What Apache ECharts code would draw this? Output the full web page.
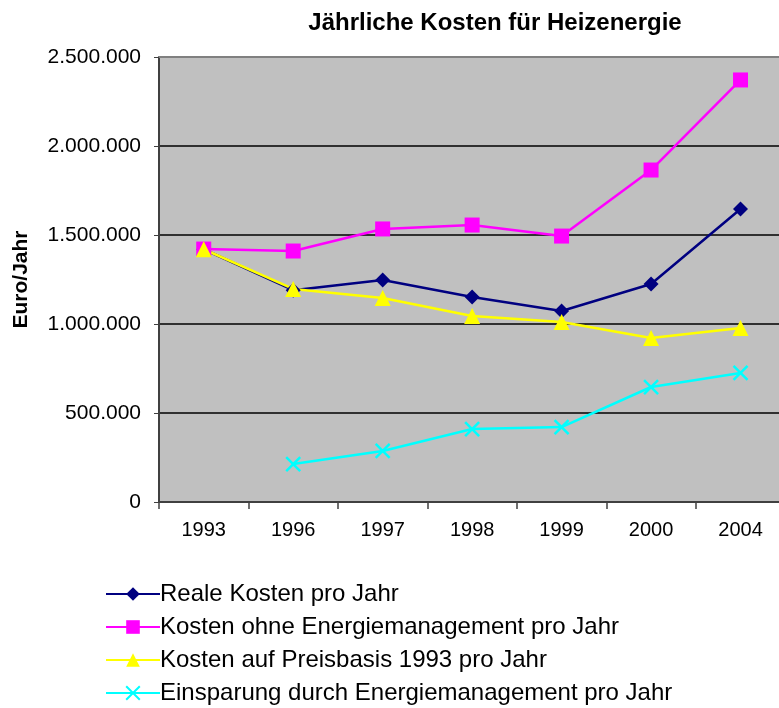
<!DOCTYPE html>
<html>
<head>
<meta charset="utf-8">
<script src="https://cdn.jsdelivr.net/npm/echarts@6/dist/echarts.min.js"></script>
<style>
  html, body { margin: 0; padding: 0; background: #fff; }
  #chart { width: 779px; height: 708px; }
</style>
</head>
<body>
<div id="chart"></div>
<script>
// Jahre (Kategorien)
const years = ['1993', '1996', '1997', '1998', '1999', '2000', '2004']

// Werte in Euro/Jahr
const realeKosten = [1420000, 1190000, 1247000, 1152000, 1073000, 1225000, 1646000]
const ohneEnergiemanagement = [1421000, 1410000, 1534000, 1556000, 1494000, 1865000, 2371000]
const preisbasis1993 = [1420000, 1197000, 1146000, 1045000, 1011000, 921000, 978000]
const einsparung = [null, 213000, 287000, 410000, 421000, 646000, 725000]

const yTicks = [0, 500000, 1000000, 1500000, 2000000, 2500000]

const chart = echarts.init(document.getElementById('chart'))

// Tausenderpunkt wie im Original
const fmt = v => String(v).replace(/\B(?=(\d{3})+(?!\d))/g, '.')

const font = 'Liberation Sans, Arial, sans-serif'

// Plotfläche läuft im Original rechts über den Bildrand hinaus:
// nur ca. 6,93 von 7 Kategorien sind sichtbar
const visibleCats = 6.93

// Kategorien als Index-Achse, Punkte in der Mitte jeder Kategorie
const toPairs = arr => arr.map((v, i) => [i, v])

const mkSeries = (name, data, color, symbol, size, extra) => Object.assign({
  name,
  type: 'line',
  data: toPairs(data),
  symbol,
  symbolSize: size,
  showAllSymbol: true,
  connectNulls: false,
  lineStyle: { color, width: 2.5 },
  itemStyle: { color },
  emphasis: { disabled: true },
  animation: false
}, extra || {})

const option = {
  animation: false,
  title: {
    text: 'Jährliche Kosten für Heizenergie',
    left: 490,
    top: 6,
    textAlign: 'center',
    textStyle: { fontFamily: font, fontSize: 24, fontWeight: 'bold', color: '#000' }
  },
  legend: {
    orient: 'vertical',
    left: 100,
    top: 577,
    height: 131,
    itemGap: 9,
    itemWidth: 54,
    itemHeight: 17,
    textStyle: { fontFamily: font, fontSize: 24, lineHeight: 24, color: '#000', padding: [0, 0, 0, -5] },
    data: [
      'Reale Kosten pro Jahr',
      'Kosten ohne Energiemanagement pro Jahr',
      'Kosten auf Preisbasis 1993 pro Jahr',
      'Einsparung durch Energiemanagement pro Jahr'
    ]
  },
  grid: {
    left: 159,
    top: 57,
    right: 0,
    height: 445,
    show: true,
    backgroundColor: '#C0C0C0',
    borderWidth: 0
  },
  xAxis: [
    {
      type: 'value',
      min: -0.5,
      max: -0.5 + visibleCats,
      position: 'bottom',
      splitLine: { show: false },
      axisLine: { show: true, onZero: false, lineStyle: { color: '#404040', width: 2 } },
      axisTick: {
        show: true, length: 7, lineStyle: { color: '#404040', width: 1.5 },
        customValues: years.map((_, i) => i - 0.5)
      },
      axisLabel: {
        fontFamily: font, fontSize: 20, color: '#000', margin: 18,
        customValues: years.map((_, i) => i),
        formatter: v => years[Math.round(v)]
      }
    },
    {
      type: 'value',
      min: -0.5,
      max: -0.5 + visibleCats,
      position: 'top',
      splitLine: { show: false },
      axisLine: { show: true, onZero: false, lineStyle: { color: '#808080', width: 2 } },
      axisTick: { show: false },
      axisLabel: { show: false }
    }
  ],
  yAxis: {
    type: 'value',
    min: 0,
    max: 2500000,
    interval: 500000,
    name: 'Euro/Jahr',
    nameLocation: 'middle',
    nameGap: 127,
    nameRotate: 90,
    nameTextStyle: { fontFamily: font, fontSize: 21, fontWeight: 'bold', color: '#000' },
    axisLine: { show: true, onZero: false, lineStyle: { color: '#404040', width: 2 } },
    axisTick: { show: true, inside: false, length: 5, lineStyle: { color: '#404040' } },
    axisLabel: {
      fontFamily: font, fontSize: 21, color: '#000', margin: 18,
      formatter: v => yTicks.includes(v) ? fmt(v) : ''
    },
    splitLine: { show: true, lineStyle: { color: '#000', width: 1.5 } }
  },
  series: [
    mkSeries('Reale Kosten pro Jahr', realeKosten, '#000080', 'diamond', 15),
    mkSeries('Kosten ohne Energiemanagement pro Jahr', ohneEnergiemanagement, '#FF00FF', 'rect', 15),
    mkSeries('Kosten auf Preisbasis 1993 pro Jahr', preisbasis1993, '#FFFF00', 'triangle', 16),
    mkSeries('Einsparung durch Energiemanagement pro Jahr', einsparung, '#00FFFF',
      'path://M0,0L10,10M10,0L0,10', 14, {
        itemStyle: { color: 'none', borderColor: '#00FFFF', borderWidth: 2.5 }
      })
  ]
}

chart.setOption(option)
</script>
</body>
</html>
